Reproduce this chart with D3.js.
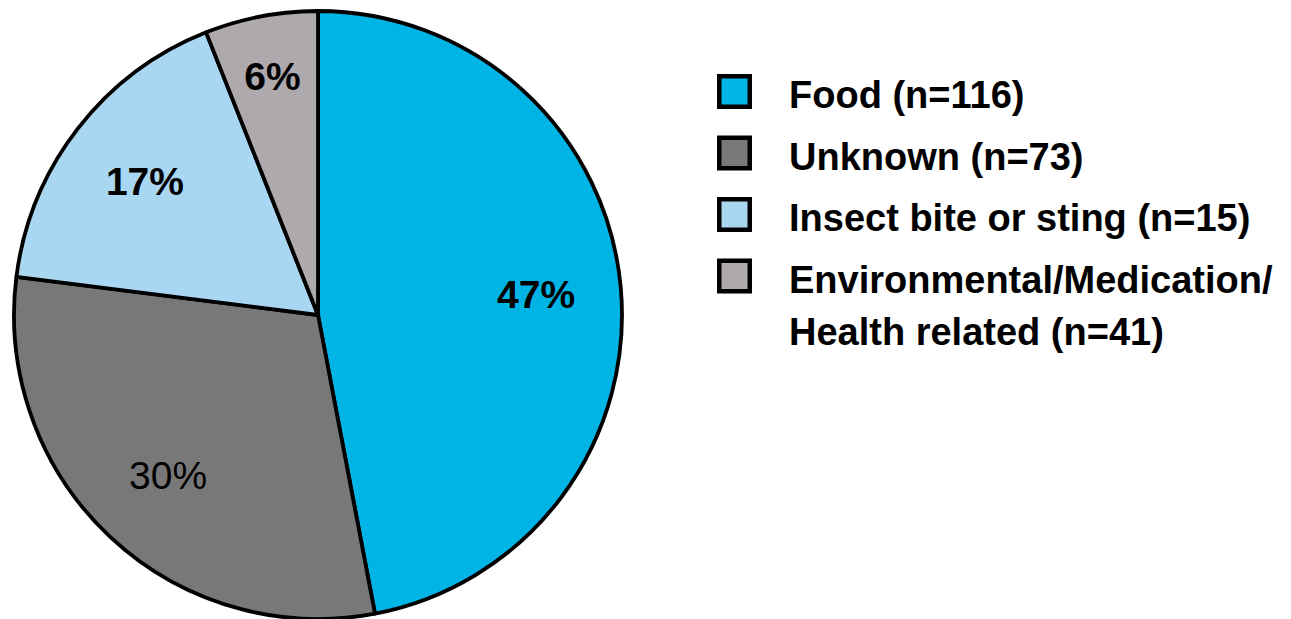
<!DOCTYPE html>
<html>
<head>
<meta charset="utf-8">
<script src="https://cdn.jsdelivr.net/npm/d3@7/dist/d3.min.js"></script>
<style>
  html, body { margin: 0; padding: 0; background: #ffffff; }
  svg { display: block; }
</style>
</head>
<body>
<svg id="chart" width="1291" height="619"></svg>
<script>
// ---- data ----
const categories = ["Food", "Unknown", "Insect bite or sting", "Environmental/Medication/Health related"];
const percents = [47, 30, 17, 6];
const pieLabels = ["47%", "30%", "17%", "6%"];
const legendLines = [
  ["Food (n=116)"],
  ["Unknown (n=73)"],
  ["Insect bite or sting (n=15)"],
  ["Environmental/Medication/", "Health related (n=41)"]
];

// ---- styles / layout ----
const colors = ["#00b4e5", "#787878", "#a9d6f0", "#aea9ac"];
const labelWeights = ["bold", "normal", "bold", "bold"];
const font = "'Liberation Sans', Arial, Helvetica, sans-serif";

const svg = d3.select("#chart");
const cx = 318, cy = 315, R = 304;

const pie = d3.pie().sort(null).value(d => d);
const arcs = pie(percents);
const arc = d3.arc().innerRadius(0).outerRadius(R);
const labelArc = d3.arc().innerRadius(219).outerRadius(219);
const smallLabelArc = d3.arc().innerRadius(243).outerRadius(243);

const g = svg.append("g").attr("transform", `translate(${cx},${cy})`);

g.selectAll("path.slice")
  .data(arcs)
  .join("path")
  .attr("class", "slice")
  .attr("d", arc)
  .attr("fill", (d, i) => colors[i])
  .attr("stroke", "#000")
  .attr("stroke-width", 3.8)
  .attr("stroke-linejoin", "round");

g.selectAll("text.plabel")
  .data(arcs)
  .join("text")
  .attr("class", "plabel")
  .attr("transform", d => {
    const c = (d.data < 10 ? smallLabelArc : labelArc).centroid(d);
    return `translate(${c[0]},${c[1]})`;
  })
  .attr("dy", "0.36em")
  .attr("text-anchor", "middle")
  .attr("font-family", font)
  .attr("font-size", 39)
  .attr("font-weight", (d, i) => labelWeights[i])
  .attr("fill", "#000")
  .text((d, i) => pieLabels[i]);

// ---- legend ----
const legX = 717, legY0 = 74, rowStep = 61.5, box = 35, border = 4.5;
const textX = 789;
const legend = svg.append("g");

categories.forEach((c, i) => {
  const y = legY0 + i * rowStep;
  legend.append("rect")
    .attr("x", legX + border / 2)
    .attr("y", y + border / 2)
    .attr("width", box - border)
    .attr("height", box - border)
    .attr("fill", colors[i])
    .attr("stroke", "#000")
    .attr("stroke-width", border);
  const t = legend.append("text")
    .attr("x", textX)
    .attr("y", y + 34)
    .attr("font-family", font)
    .attr("font-size", 38)
    .attr("font-weight", "bold")
    .attr("fill", "#000");
  legendLines[i].forEach((line, j) => {
    t.append("tspan")
      .attr("x", textX)
      .attr("dy", j === 0 ? 0 : 52)
      .text(line);
  });
});
</script>
</body>
</html>
